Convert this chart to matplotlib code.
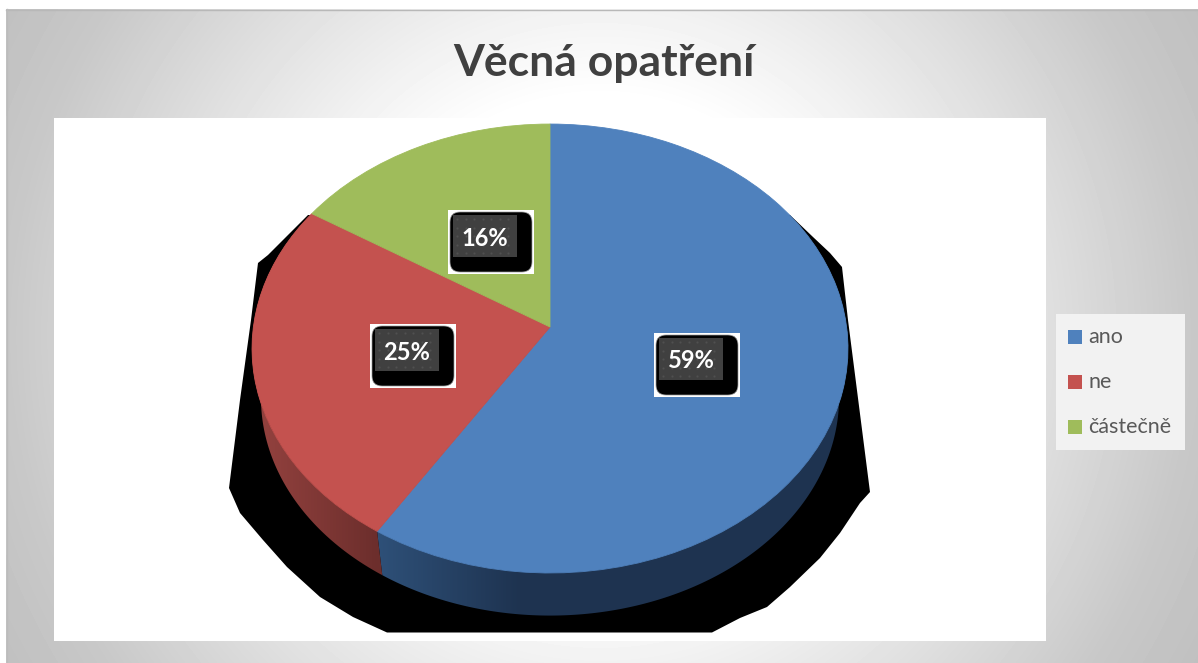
import numpy as np
import matplotlib
matplotlib.use("Agg")
import matplotlib.pyplot as plt
from matplotlib.patches import FancyBboxPatch, Polygon, Rectangle
from matplotlib.transforms import Transform

plt.rcParams['font.family'] = ['Lato', 'DejaVu Sans']

title = "Věcná opatření"
categories = ["ano", "ne", "částečně"]
values = [59, 25, 16]
colors = ["#4f81bd", "#c4524f", "#9fbc5b"]

# figure size in pixels, everything below is laid out in these
W, H = 1198, 663

# pie geometry: apex on screen, half axes and perspective
CX, CY = 550, 327
A, B, K = 296.6, 222.4, 0.0958
# lower rim of the side wall
RIM_SCALE, RIM_DROP = 0.97, 50

# outline of the black shadow behind the pie
shadow_xy = [(308, 215), (288, 235), (268, 255), (258, 263), (251, 320), (240, 400),
             (229, 488), (240, 513), (263, 540), (287, 567), (320, 597), (353, 617),
             (387, 632.5), (712, 632.5), (740, 618), (767, 607), (790, 587), (820, 558),
             (840, 533), (860, 503), (870, 492), (848, 320), (842, 267), (830, 253),
             (813, 237), (790, 215)]

# (left, top) of each white label box
label_boxes = [(654, 333), (370, 324), (448, 210)]

# side wall shading: x range and rgb at both ends, one per visible slice
side_x = [(378, 520), (262, 378)]
side_rgb = [((46, 80, 120), (30, 51, 80)), ((146, 65, 62), (108, 46, 44))]


class Tilt(Transform):
    """Unit disc -> screen pixels, with a bit of perspective"""
    input_dims = 2
    output_dims = 2

    def transform_non_affine(self, xy):
        xy = np.asarray(xy, dtype=float)
        d = 1 + K * xy[:, 1]
        return np.column_stack([CX + A * xy[:, 0] / d, CY - B * xy[:, 1] / d])


def rim(theta):
    # theta is degrees clockwise from the top
    t = np.radians(theta)
    return Tilt().transform_non_affine(np.column_stack([np.sin(t), np.cos(t)]))


def lower_rim(theta):
    p = rim(theta)
    return np.column_stack([CX + (p[:, 0] - CX) * RIM_SCALE,
                            CY + (p[:, 1] - CY) * RIM_SCALE + RIM_DROP])


fig = plt.figure(figsize=(W / 100, H / 100), dpi=100, facecolor="white")
ax = fig.add_axes([0, 0, 1, 1])

# pie() first, it messes with the limits and aspect
wedges, _ = ax.pie(values, colors=colors, startangle=90, counterclock=False, radius=1)
for w, c in zip(wedges, colors):
    w.set_transform(Tilt() + ax.transData)
    w.set_clip_on(False)
    w.set_zorder(5)
    w.set_edgecolor(c)
    w.set_linewidth(0.6)

# grey radial background of the panel
yy, xx = np.mgrid[0:H, 0:W]
r = np.hypot(xx - 600, yy - 335) / 680
grey = np.interp(r, [0, 0.35, 0.46, 0.66, 0.87, 1], [255, 255, 244, 223, 200, 192]) / 255
ax.imshow(grey[9:, 6:], cmap="gray", vmin=0, vmax=1, extent=(6, W, H, 9), aspect="auto", zorder=0)
ax.plot([6, W], [9.5, 9.5], color="#b8b8b8", lw=1, zorder=1)
ax.plot([6.5, 6.5], [9, H], color="#bcbcbc", lw=1, zorder=1)

# plot area and shadow
ax.add_patch(Rectangle((54, 118), 992, 523, fc="white", ec="none", zorder=2))
ax.add_patch(Polygon(shadow_xy, closed=True, fc="black", ec="none", zorder=3))

# side wall: horizontal gradient clipped to the band between the two rims
edges = np.cumsum([0] + values) * 3.6
for i in range(2):
    th = np.linspace(max(edges[i], 60), min(edges[i + 1], 300), 200)
    outline = np.vstack([rim(th), lower_rim(th)[::-1]])
    band = Polygon(outline, closed=True, fc="none", ec="none", transform=ax.transData)
    ax.add_patch(band)
    x0, x1 = outline[:, 0].min() - 1, outline[:, 0].max() + 1
    px = np.arange(int(x0), int(x1) + 1)
    f = np.clip((px - side_x[i][0]) / (side_x[i][1] - side_x[i][0]), 0, 1)[None, :, None]
    img = (np.array(side_rgb[i][0]) + (np.array(side_rgb[i][1]) - np.array(side_rgb[i][0])) * f) / 255
    im = ax.imshow(img, extent=(px[0], px[-1] + 1, outline[:, 1].max() + 1, outline[:, 1].min() - 1),
                   aspect="auto", zorder=4)
    im.set_clip_path(band)

# pie() and imshow both touch the limits, so set them last
ax.set_aspect("auto")
ax.set_xlim(0, W)
ax.set_ylim(H, 0)
ax.axis("off")

# data labels
for (x0, y0), v in zip(label_boxes, values):
    ax.add_patch(Rectangle((x0, y0), 86, 64, fc="white", ec="none", zorder=6))
    ax.add_patch(FancyBboxPatch((x0 + 10, y0 + 10), 66, 44, boxstyle="round,pad=8,rounding_size=10",
                                fc="black", ec="#9a9a9a", lw=0.5, zorder=7))
    ax.add_patch(Rectangle((x0 + 5, y0 + 5), 64, 42, fc="#404040", ec="none", zorder=8))
    dx, dy = np.meshgrid(np.arange(x0 + 9, x0 + 68, 8.5), np.arange(y0 + 9, y0 + 47, 8.5))
    ax.scatter(dx.ravel(), dy.ravel(), s=2.5, color="#505050", linewidths=0, zorder=8.5)
    ax.text(x0 + 37, y0 + 28, "%d%%" % v, color="white", fontsize=17, fontweight="bold",
            ha="center", va="center", zorder=9)

# legend
ax.add_patch(Rectangle((1056, 314), 129, 136, fc="#f2f2f2", ec="none", zorder=2))
for i, (lab, c) in enumerate(zip(categories, colors)):
    y = 337 + 45 * i
    ax.add_patch(Rectangle((1068, y - 7), 14, 14, fc=c, ec="none", zorder=3))
    ax.text(1088, y, lab, color="#595959", fontsize=15.5, ha="left", va="center", zorder=3)

ax.text(603.5, 63, title, color="#404040", fontsize=32, fontweight="bold",
        ha="center", va="center", zorder=3)

fig.savefig("out.png", dpi=100)
